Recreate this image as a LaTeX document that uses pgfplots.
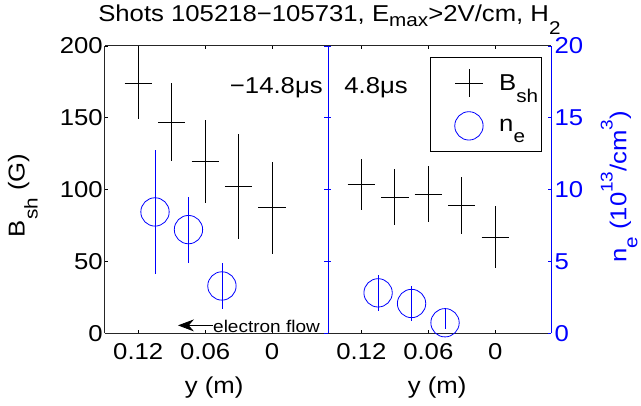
\documentclass[border=0pt]{standalone}
\usepackage{fontspec}
\setmainfont{Liberation Sans}[FakeStretch=1.12]
\usepackage{pgfplots}
\pgfplotsset{compat=1.18}
\usetikzlibrary{arrows.meta}
\newcommand\fs{\fontsize{23}{27}\selectfont}
\newcommand\sub[2][0.5em]{\raisebox{-#1}{\fontsize{18.5}{20}\selectfont #2}}
\newcommand\super[2][0.6em]{\raisebox{#1}{\fontsize{17}{20}\selectfont #2}}
\pgfplotsset{
  panel/.style={
    at={(#1,72pt)}, anchor=south west, scale only axis,
    width=223.5pt, height=288pt,
    xmin=-0.05, xmax=0.15, x dir=reverse,
    tick align=inside, major tick length=3.5pt,
    tick style={black, line width=0.6pt},
    axis line style={line width=0.9pt, black!85},
    font=\fs,
    /pgf/number format/assume math mode=true,
    legend image code/.code={\path[draw=none,fill=none] (-39pt,-21.5pt) rectangle (27pt,21.5pt); \draw[##1] plot coordinates {(0pt,0pt)};},
  },
  bstyle/.style={only marks, mark=+, mark size=13.7pt, black, line width=0.8pt,
    error bars/.cd, y dir=both, y explicit, error mark=none,
    error bar style={black, line width=0.8pt}},
  nstyle/.style={only marks, mark=o, mark size=14.2pt, blue, line width=0.8pt,
    error bars/.cd, y dir=both, y explicit, error mark=none,
    error bar style={blue, line width=0.8pt}},
  xstuff/.style={
    xtick={0,0.06,0.12}, xticklabels={0,0.06,0.12},
    x tick label style={yshift=-7pt},
    xlabel={y (m)},
    every axis x label/.style={at={(axis description cs:0.49,-0.2083)}, anchor=base},
  },
}
\begin{document}
\begin{tikzpicture}[x=1pt,y=1pt]
\path (0,0) rectangle (641,406);
% ---------- left panel, B
\begin{axis}[panel=105pt, xstuff,
  ymin=0, ymax=200, ytick={0,50,100,150,200}, yticklabels={0,50,100,150,200},
  y tick label style={xshift=1.5pt},
  axis x line*=box, axis y line*=left,
  ylabel={B\sub[0.56em]{sh} (G)},
  every axis y label/.style={at={(axis description cs:-0.367,0.48)}, anchor=center, rotate=90},
]
\addplot[bstyle] coordinates {
 (0.12,174) +- (0,25)
 (0.09,147) +- (0,27)
 (0.06,119.5) +- (0,29)
 (0.03,102) +- (0,36.5)
 (0,87.5) +- (0,32)
};
\node[anchor=base east, inner sep=0pt] at (axis description cs:0.9776,0.8358) {−14.8μs};
\draw[-{Stealth[length=16pt,width=12pt]}, line width=0.8pt] (axis description cs:0.487,0.0278) -- (axis description cs:0.328,0.0278);
\node[anchor=base west, inner sep=0pt, font=\fontsize{17}{20}\selectfont] at (axis description cs:0.485,0.004) {electron flow};
\end{axis}
% ---------- left panel, n_e
\begin{axis}[panel=105pt,
  ymin=0, ymax=20, ytick={0,5,10,15,20}, yticklabels={},
  axis x line=none, axis y line*=right,
  y axis line style={blue, line width=0.7pt}, ytick style={blue},
]
\addplot[nstyle] coordinates {
 (0.105,8.45) +- (0,4.3)
 (0.075,7.22) +- (0,2.3)
 (0.045,3.3) +- (0,1.6)
};
\end{axis}
% ---------- right panel, B
\begin{axis}[panel=328.5pt, xstuff,
  ymin=0, ymax=200, ytick={0,50,100,150,200}, yticklabels={},
  axis x line*=box, axis y line*=left,
  y axis line style={blue, line width=0.7pt}, ytick style={blue},
]
\addplot[bstyle] coordinates {
 (0.12,103.5) +- (0,17.7)
 (0.09,94.8) +- (0,19.3)
 (0.06,97) +- (0,19.8)
 (0.03,89) +- (0,20)
 (0,67) +- (0,21.5)
};
\node[anchor=base west, inner sep=0pt] at (axis description cs:0.073,0.8358) {4.8μs};
\end{axis}
% ---------- right panel, n_e
\begin{axis}[panel=328.5pt,
  ymin=0, ymax=20, ytick={0,5,10,15,20}, yticklabels={0,5,10,15,20},
  y tick label style={blue},
  axis x line=none, axis y line*=right,
  y axis line style={blue, line width=0.7pt}, ytick style={blue},
  ylabel={n\sub[0.48em]{e} (10\super{13}/cm\super{3})},
  every axis y label/.style={at={(axis description cs:1.306,0.51)}, anchor=center, rotate=90, blue},
  legend style={draw=black, line width=0.9pt, inner xsep=0pt, inner ysep=4.5pt,
    at={(axis description cs:0.9596,0.963)}, anchor=north east, font=\fs,
    nodes={inner ysep=1pt, inner xsep=0.333em}},
  legend cell align=left,
]
\addlegendimage{only marks, mark=+, mark size=13.7pt, black, line width=0.8pt}
\addlegendentry{B\sub[0.56em]{sh}}
\addplot[nstyle] coordinates {
 (0.105,2.82) +- (0,1.23)
 (0.075,2.08) +- (0,1.25)
 (0.045,0.74) += (0,1.0) -= (0,0.4)
};
\addlegendentry{n\sub[0.48em]{e}}
\end{axis}
\node[anchor=base, font=\fs] at (330,384) {Shots 105218−105731, E\sub[0.2em]{max}>2V/cm, H\sub[0.55em]{2}};
\end{tikzpicture}
\end{document}
